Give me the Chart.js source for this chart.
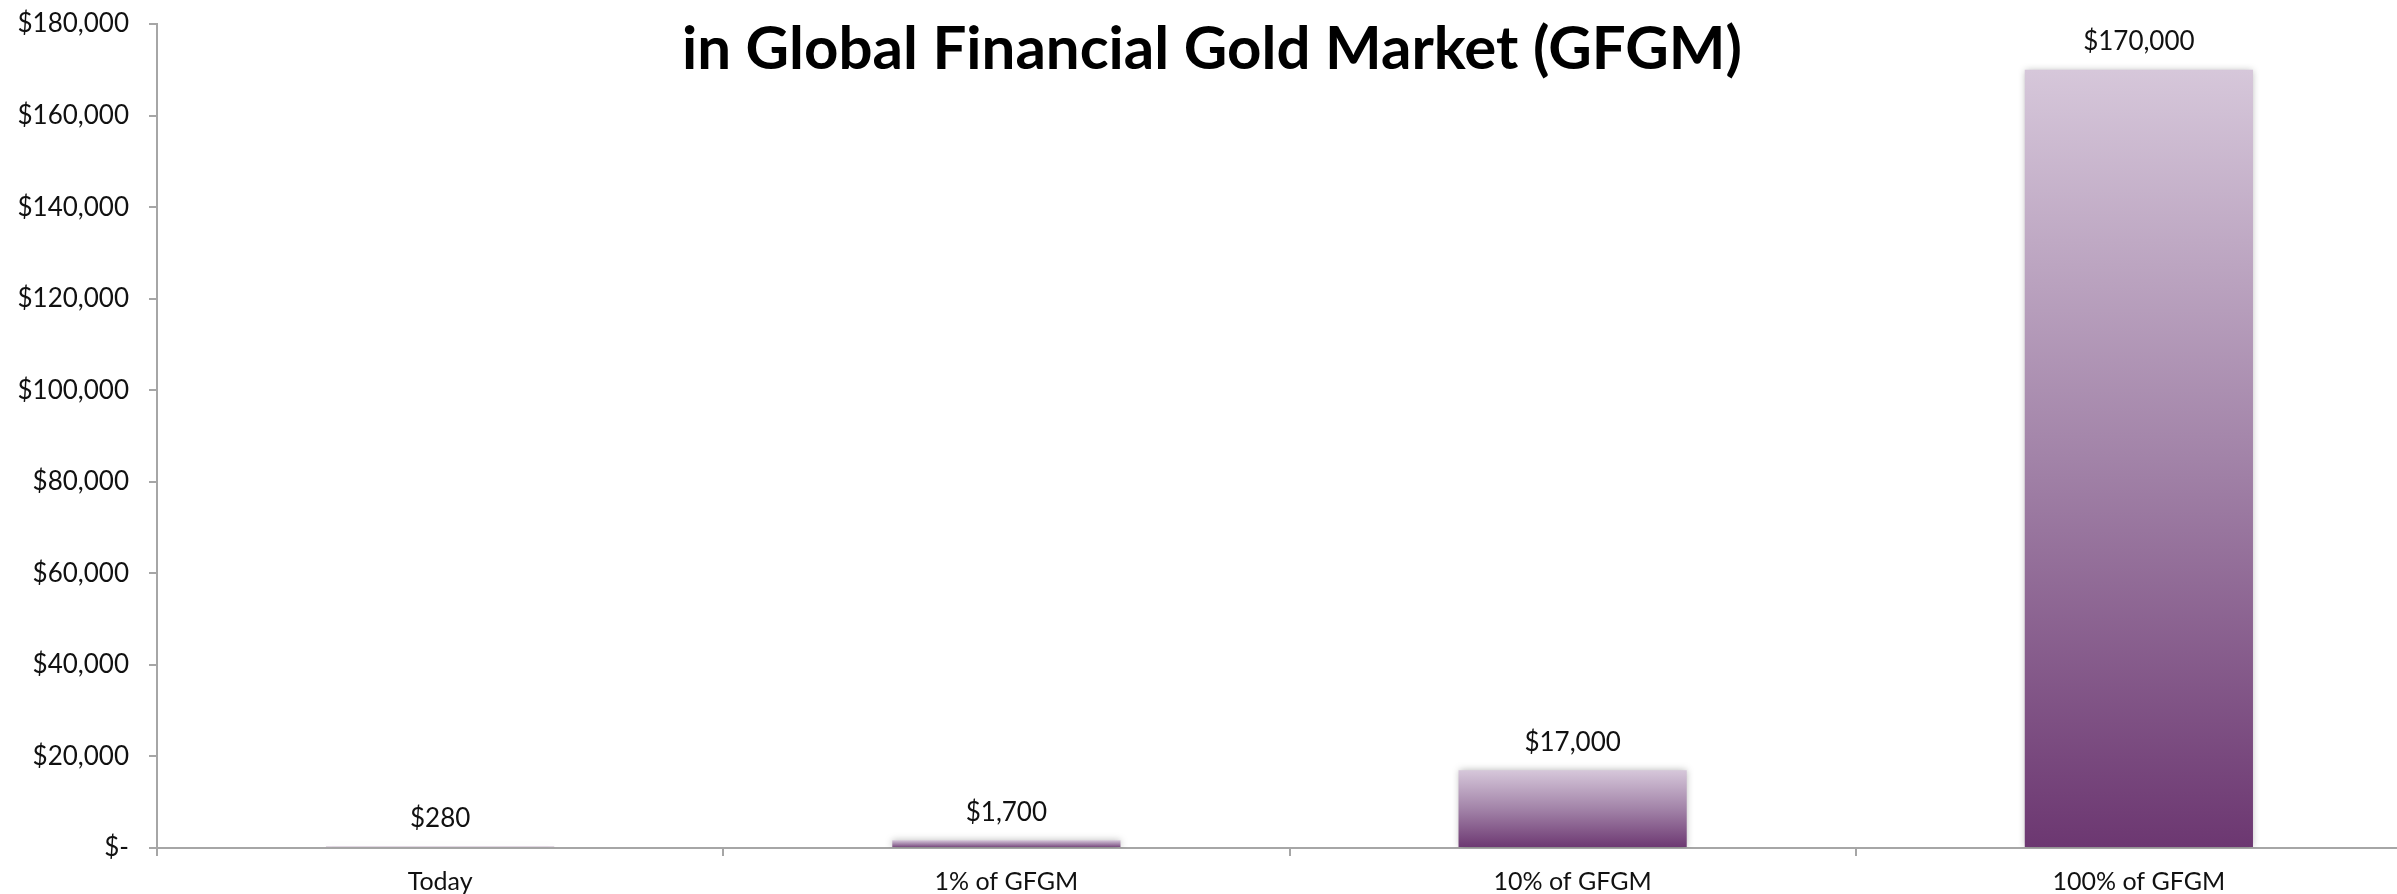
<!DOCTYPE html>
<html>
<head>
<meta charset="utf-8">
<script src="https://cdn.jsdelivr.net/npm/chart.js@4.4.0/dist/chart.umd.min.js"></script>
<style>
  html, body { margin: 0; padding: 0; background: #fff; overflow: hidden; }
  #wrap { position: relative; width: 2440px; height: 894px; }
</style>
</head>
<body>
<div id="wrap"><canvas id="chartGold"></canvas></div>
<script>
const categories = ["Today", "1% of GFGM", "10% of GFGM", "100% of GFGM"];
const values = [280, 1700, 17000, 170000];
const yMax = 180000;
const yStep = 20000;
const titleText = "in Global Financial Gold Market (GFGM)";

const FONT = "Lato, 'Open Sans', sans-serif";
const money = v => v === 0 ? "$-" : "$" + v.toLocaleString("en-US");

// gradient per bar, light on top, dark at the base
function barFill(c) {
  const chart = c.chart;
  if (!chart.chartArea) return "#9a7aa0";
  const y = chart.scales.y;
  const top = y.getPixelForValue(values[c.dataIndex]);
  const base = y.getPixelForValue(0);
  if (base - top < 2) return "#8a6590";
  const g = chart.ctx.createLinearGradient(0, top, 0, base);
  g.addColorStop(0, "#d6c7da");
  g.addColorStop(0.5, "#a283a8");
  g.addColorStop(1, "#6c3771");
  return g;
}

const shadowPlugin = {
  id: "shadow",
  beforeDatasetsDraw(chart) {
    const ctx = chart.ctx;
    ctx.save();
    ctx.shadowColor = "rgba(0,0,0,0.28)";
    ctx.shadowBlur = 7;
  },
  afterDatasetsDraw(chart) {
    chart.ctx.restore();
  }
};

const labelPlugin = {
  id: "valueLabels",
  afterDatasetsDraw(chart) {
    const ctx = chart.ctx;
    const meta = chart.getDatasetMeta(0);
    ctx.save();
    ctx.font = "26px " + FONT;
    ctx.fillStyle = "#111";
    ctx.textAlign = "center";
    ctx.textBaseline = "middle";
    meta.data.forEach((bar, i) => {
      ctx.fillText(money(values[i]), bar.x, bar.y - 28);
    });
    ctx.restore();
  }
};

const titlePlugin = {
  id: "topTitle",
  afterDraw(chart) {
    const ctx = chart.ctx;
    ctx.save();
    ctx.font = "bold 60px " + FONT;
    ctx.fillStyle = "#000";
    ctx.textAlign = "center";
    ctx.textBaseline = "middle";
    ctx.fillText(titleText, 1212, 50);
    ctx.restore();
  }
};

const ctx = document.getElementById("chartGold").getContext("2d");
new Chart(ctx, {
  type: "bar",
  data: {
    labels: categories,
    datasets: [{
      data: values,
      backgroundColor: barFill,
      borderWidth: 0,
      categoryPercentage: 1,
      barPercentage: 0.403
    }]
  },
  options: {
    responsive: true,
    maintainAspectRatio: false,
    animation: false,
    layout: { padding: { top: 24, right: 18, left: 0, bottom: 0 } },
    plugins: {
      legend: { display: false },
      tooltip: { enabled: false },
      title: { display: false }
    },
    scales: {
      x: {
        border: { color: "#a6a6a6", width: 2 },
        grid: { drawOnChartArea: false, tickLength: 8, color: "#a6a6a6", lineWidth: 2 },
        ticks: { color: "#111", font: { family: FONT, size: 25 }, padding: 11, maxRotation: 0 },
        afterFit: s => { s.height = 46; s.paddingLeft = 0; s.paddingRight = 0; }
      },
      y: {
        min: 0,
        max: yMax,
        border: { color: "#a6a6a6", width: 2 },
        grid: { drawOnChartArea: false, tickLength: 8, color: "#a6a6a6", lineWidth: 2 },
        ticks: {
          stepSize: yStep,
          color: "#111",
          font: { family: FONT, size: 26 },
          padding: 20,
          callback: v => money(v)
        },
        afterFit: s => { s.width = 157; s.paddingTop = 0; s.paddingBottom = 0; }
      }
    }
  },
  plugins: [shadowPlugin, labelPlugin, titlePlugin]
});
</script>
</body>
</html>
